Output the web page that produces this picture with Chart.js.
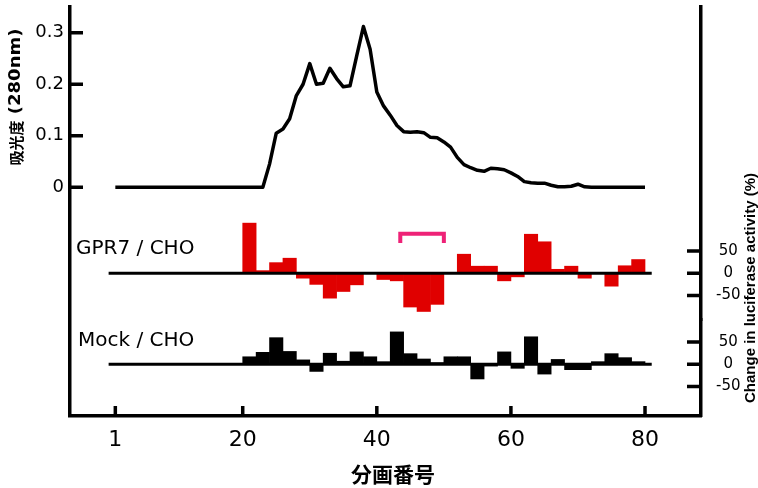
<!DOCTYPE html>
<html lang="ja">
<head>
<meta charset="UTF-8">
<title>分画番号</title>
<script src="https://cdn.jsdelivr.net/npm/chart.js@4"></script>
<style>
  body { margin: 0; background: #fff; }
</style>
</head>
<body>
<canvas id="chart" width="758" height="488"></canvas>
<script>
// fraction numbers and absorbance at 280 nm
const fractions = [
   1,  2,  3,  4,  5,  6,  7,  8,  9, 10, 11, 12, 13, 14, 15, 16, 17, 18, 19, 20,
  21, 22, 23, 24, 25, 26, 27, 28, 29, 30, 31, 32, 33, 34, 35, 36, 37, 38, 39, 40,
  41, 42, 43, 44, 45, 46, 47, 48, 49, 50, 51, 52, 53, 54, 55, 56, 57, 58, 59, 60,
  61, 62, 63, 64, 65, 66, 67, 68, 69, 70, 71, 72, 73, 74, 75, 76, 77, 78, 79, 80
];
const absorbance = [
  0, 0, 0, 0, 0, 0, 0, 0, 0, 0, 0, 0, 0, 0, 0, 0, 0, 0, 0, 0,
  0, 0, 0, 0.045, 0.105, 0.113, 0.133, 0.178, 0.200, 0.240, 0.200, 0.202, 0.231, 0.211, 0.195, 0.197, 0.255, 0.312, 0.268, 0.185,
  0.158, 0.140, 0.120, 0.108, 0.107, 0.108, 0.106, 0.097, 0.096, 0.088, 0.078, 0.058, 0.044, 0.038, 0.033, 0.031, 0.037, 0.036, 0.034, 0.028,
  0.021, 0.011, 0.009, 0.008, 0.008, 0.004, 0.001, 0.001, 0.002, 0.006, 0.001, 0, 0, 0, 0, 0, 0, 0, 0, 0
];

// luciferase assay, one bar per pair of fractions (bar centre)
const barFractions = [21, 23, 25, 27, 29, 31, 33, 35, 37, 39, 41, 43, 45, 47, 49,
                      51, 53, 55, 57, 59, 61, 63, 65, 67, 69, 71, 73, 75, 77, 79];
const gpr7 = [113, 6, 24, 34, -11, -25, -56, -41, -26, 0, -14, -17, -76, -86, -70,
              0, 43, 16, 16, -17, -8, 88, 71, 9, 16, -11, 0, -29, 17, 31];
const mock = [17, 27, 60, 29, 10, -16, 25, 7, 28, 17, 6, 73, 24, 12, 4,
              17, 17, -33, -4, 28, -9, 62, -22, 11, -12, -12, 6, 24, 15, 6];

const zeroLineX = [0, 81];
const bracketX = [43.5, 43.5, 50, 50];
const bracketY = [68, 89, 89, 68];

const xTicks = [1, 20, 40, 60, 80];
const absTicks = [0, 0.1, 0.2, 0.3];
const lucTicks = [-50, 0, 50];
const panelNames = ['GPR7 / CHO', 'Mock / CHO'];

const RED = '#e00000';
const PINK = '#ee2277';

function pts(xs, ys) {
  return xs.map((x, i) => ({ x: x, y: ys[i] }));
}

// fixed axis sizes, and no extra room for the outer tick labels
function fixSize(w, h) {
  return s => {
    if (w) s.width = w;
    if (h) s.height = h;
    s.paddingTop = 0; s.paddingBottom = 0;
    s.paddingLeft = 0; s.paddingRight = 0;
  };
}

// tick marks point into the plot, as in the original figure
const inwardTicks = {
  id: 'inwardTicks',
  afterDraw(chart) {
    const { ctx, chartArea: a, scales } = chart;
    ctx.save();
    ctx.strokeStyle = '#000';
    ctx.lineWidth = 3.5;
    ctx.beginPath();
    scales.x.ticks.forEach(t => {
      const px = scales.x.getPixelForValue(t.value);
      ctx.moveTo(px, a.bottom);
      ctx.lineTo(px, a.bottom - 10);
    });
    scales.yAbs.ticks.forEach(t => {
      const py = scales.yAbs.getPixelForValue(t.value);
      ctx.moveTo(a.left, py);
      ctx.lineTo(a.left + 13, py);
    });
    ['yGpr', 'yMock'].forEach(id => {
      scales[id].ticks.forEach(t => {
        const py = scales[id].getPixelForValue(t.value);
        ctx.moveTo(a.right, py);
        ctx.lineTo(a.right - 14, py);
      });
    });
    ctx.stroke();
    ctx.restore();
  }
};

// free text: panel names and axis titles
const texts = {
  id: 'texts',
  afterDraw(chart) {
    const ctx = chart.ctx;
    ctx.save();
    ctx.fillStyle = '#000';
    ctx.textBaseline = 'middle';
    ctx.textAlign = 'left';
    ctx.font = '20px "DejaVu Sans"';
    ctx.fillText(panelNames[0], 76, 249);
    ctx.fillText(panelNames[1], 78, 341);

    // x title
    ctx.textAlign = 'center';
    ctx.font = 'bold 21px "Noto Sans CJK JP"';
    ctx.fillText('分画番号', 393, 474);

    // left title, reads bottom to top
    ctx.save();
    ctx.translate(16, 97);
    ctx.rotate(-Math.PI / 2);
    ctx.textAlign = 'left';
    const f1 = 'bold 15px "Noto Sans CJK JP"';
    const f2 = 'bold 15px "DejaVu Sans"';
    const p1 = '吸光度';
    const p2 = ' (280nm)';
    const sx = 1.2;
    ctx.font = f1;
    const w1 = ctx.measureText(p1).width;
    ctx.font = f2;
    const w2 = ctx.measureText(p2).width * sx;
    const start = -(w1 + w2) / 2;
    ctx.font = f1;
    ctx.fillText(p1, start, 0);
    ctx.font = f2;
    ctx.translate(start + w1, 0);
    ctx.scale(sx, 1);
    ctx.fillText(p2, 0, 0);
    ctx.restore();

    // right title
    ctx.save();
    ctx.translate(751, 288);
    ctx.rotate(-Math.PI / 2);
    ctx.textAlign = 'center';
    ctx.font = 'bold 15px "Liberation Sans"';
    ctx.fillText('Change in luciferase activity (%)', 0, 0);
    ctx.restore();

    ctx.restore();
  }
};

Chart.defaults.font.family = '"DejaVu Sans", sans-serif';
Chart.defaults.color = '#000';

const axisBorder = { color: '#000', width: 3.5 };
const noGrid = { display: false, drawTicks: false };

new Chart(document.getElementById('chart'), {
  type: 'bar',
  data: {
    datasets: [
      {
        type: 'line', data: pts(fractions, absorbance), yAxisID: 'yAbs',
        borderColor: '#000', borderWidth: 3.5, pointRadius: 0, tension: 0,
        borderJoinStyle: 'round', order: 0
      },
      {
        type: 'line', data: pts(zeroLineX, [0, 0]), yAxisID: 'yGpr',
        borderColor: '#000', borderWidth: 3, pointRadius: 0, order: 1
      },
      {
        type: 'line', data: pts(zeroLineX, [0, 0]), yAxisID: 'yMock',
        borderColor: '#000', borderWidth: 3, pointRadius: 0, order: 1
      },
      {
        type: 'line', data: pts(bracketX, bracketY), yAxisID: 'yGpr',
        borderColor: PINK, borderWidth: 4, pointRadius: 0, tension: 0, order: 1
      },
      {
        type: 'bar', data: pts(barFractions, gpr7), yAxisID: 'yGpr',
        backgroundColor: RED, borderWidth: 0, grouped: false,
        barPercentage: 1, categoryPercentage: 1, order: 2
      },
      {
        type: 'bar', data: pts(barFractions, mock), yAxisID: 'yMock',
        backgroundColor: '#000', borderWidth: 0, grouped: false,
        barPercentage: 1, categoryPercentage: 1, order: 2
      }
    ]
  },
  options: {
    responsive: false,
    animation: false,
    devicePixelRatio: 1,
    layout: { padding: { top: 7, right: 0, bottom: 0, left: 0 } },
    plugins: { legend: { display: false }, tooltip: { enabled: false } },
    scales: {
      x: {
        type: 'linear', min: -5.76, max: 88.35, offset: false,
        afterBuildTicks: s => { s.ticks = xTicks.map(v => ({ value: v })); },
        afterFit: fixSize(0, 72),
        grid: noGrid, border: axisBorder,
        ticks: { font: { size: 22 }, padding: 11, autoSkip: false, maxRotation: 0, callback: v => String(v) }
      },
      yAbs: {
        type: 'linear', position: 'left', min: -0.4438, max: 0.3499,
        afterBuildTicks: s => { s.ticks = absTicks.map(v => ({ value: v })); },
        afterFit: fixSize(70, 0),
        grid: noGrid, border: axisBorder,
        ticks: { font: { size: 18 }, padding: 6, callback: v => v === 0 ? '0' : v.toFixed(1) }
      },
      yGpr: {
        type: 'linear', position: 'right', stack: 'luc', stackWeight: 313,
        min: -105.2, max: 599.8,
        afterBuildTicks: s => { s.ticks = lucTicks.map(v => ({ value: v })); },
        afterFit: fixSize(57, 0),
        grid: noGrid, border: axisBorder,
        ticks: { font: { size: 15 }, padding: 15, crossAlign: 'center' }
      },
      yMock: {
        type: 'linear', position: 'right', stack: 'luc', stackWeight: 96,
        min: -116.4, max: 99.8,
        afterBuildTicks: s => { s.ticks = lucTicks.map(v => ({ value: v })); },
        afterFit: fixSize(57, 0),
        grid: noGrid, border: axisBorder,
        ticks: { font: { size: 15 }, padding: 15, crossAlign: 'center' }
      }
    }
  },
  plugins: [inwardTicks, texts]
});
</script>
</body>
</html>
